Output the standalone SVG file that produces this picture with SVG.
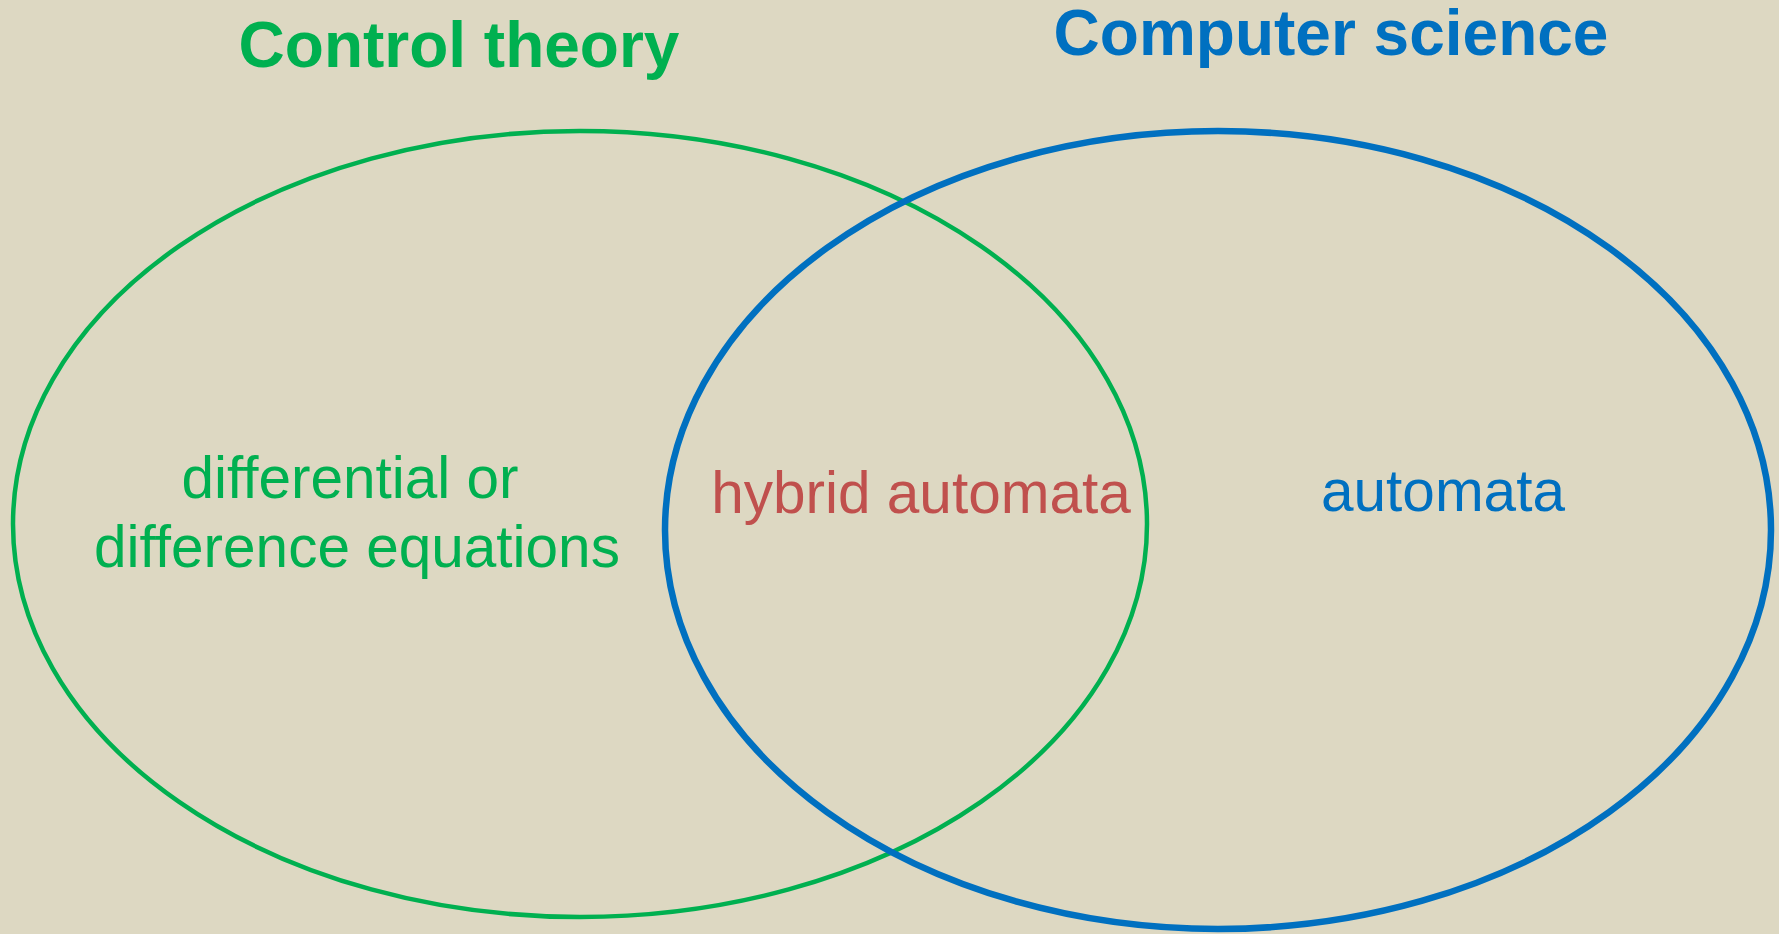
<svg xmlns="http://www.w3.org/2000/svg" width="1779" height="934" viewBox="0 0 1779 934">
<style>
.t{font-family:"Liberation Sans",Arial,sans-serif;text-anchor:middle}
.h{font-weight:bold;font-size:64px}
.b{font-size:58.5px}
</style>
<rect width="1779" height="934" fill="#DDD8C2"/>
<g id="control-theory">
<ellipse cx="580" cy="524" rx="567" ry="393" fill="none" stroke="#00B050" stroke-width="4.5"/>
<text class="t h" x="459" y="67" fill="#00B050">Control theory</text>
<text class="t b" x="350" y="498" fill="#00B050">differential or</text>
<text class="t b" x="357" y="567" fill="#00B050">difference equations</text>
</g>
<g id="computer-science">
<ellipse cx="1218" cy="530" rx="553" ry="399" fill="none" stroke="#0070C0" stroke-width="6.5"/>
<text class="t h" x="1331" y="55" fill="#0070C0">Computer science</text>
<text class="t b" x="1443" y="511" fill="#0070C0">automata</text>
</g>
<g id="intersection">
<text class="t b" x="921" y="513" fill="#C0504D">hybrid automata</text>
</g>
<g id="connectors"/>
</svg>
